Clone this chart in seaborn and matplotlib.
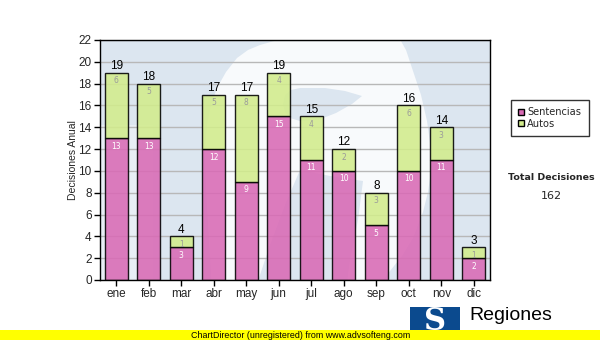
import matplotlib
matplotlib.use('Agg')
import matplotlib.pyplot as plt
import seaborn as sns
import numpy as np
from matplotlib.patches import Rectangle, Patch, Polygon

months = ['ene', 'feb', 'mar', 'abr', 'may', 'jun', 'jul', 'ago', 'sep', 'oct', 'nov', 'dic']
sentencias = [13, 13, 3, 12, 9, 15, 11, 10, 5, 10, 11, 2]
autos = [6, 5, 1, 5, 8, 4, 4, 2, 3, 6, 3, 1]
totals = [s + a for s, a in zip(sentencias, autos)]
total_decisiones = sum(totals)
yticks = list(range(0, 23, 2))

PINK = '#d96ab5'
GREEN = '#d2ec8c'
BG_BLUE = '#dce6f0'
WM_WHITE = '#f8fafc'

sns.set_theme(style='white')
plt.rcParams['font.family'] = ['Liberation Sans', 'DejaVu Sans']

W, H = 600, 340
fig = plt.figure(figsize=(6, 3.4), dpi=100)
fig.patch.set_facecolor('white')


def fx(x):
    return x / W


def fy(y):
    return 1 - y / H


L, R, T, B = 100, 490, 40, 280
rect = [fx(L), fy(B), (R - L) / W, (B - T) / H]

# background with watermark (pixel coordinates, y down)
bg = fig.add_axes(rect, zorder=0)
bg.set_xlim(L, R)
bg.set_ylim(B, T)
bg.set_xticks([])
bg.set_yticks([])
for s in bg.spines.values():
    s.set_visible(False)
bg.add_patch(Rectangle((L, T), R - L, B - T, facecolor=BG_BLUE, edgecolor='none'))
bg.add_patch(Rectangle((L, 125), 53, B - 125, facecolor='#e8eef5', edgecolor='none'))
outer = [(260, 45), (285, 38), (300, 34), (397, 34), (406, 50), (413, 71), (421, 95), (427, 121),
         (431, 150), (431, 171), (428, 192), (423, 212), (413, 238), (402, 256), (390, 271),
         (375, 290), (212, 290), (209, 240), (206, 190), (205, 150), (207, 125), (211, 105),
         (217, 88), (226, 72), (237, 58), (248, 50)]
bg.add_patch(Polygon(outer, closed=True, facecolor=WM_WHITE, edgecolor='none'))
tongue = [(283, 104), (285, 95), (291, 90), (300, 88), (325, 88), (345, 91), (362, 96),
          (352, 104), (336, 113), (318, 120), (300, 121), (290, 118), (285, 112)]
bg.add_patch(Polygon(tongue, closed=True, facecolor=BG_BLUE, edgecolor='none'))
counter = [(300, 170), (330, 176), (363, 181), (358, 220), (350, 260), (346, 290),
           (255, 290), (270, 245), (285, 205)]
bg.add_patch(Polygon(counter, closed=True, facecolor=BG_BLUE, edgecolor='none'))

ax = fig.add_axes(rect, zorder=1)
ax.patch.set_alpha(0)

sns.barplot(x=months, y=sentencias, color=PINK, saturation=1, width=0.7,
            edgecolor='black', linewidth=1.0, alpha=0.88, ax=ax, errorbar=None)
sns.barplot(x=months, y=autos, bottom=sentencias, color=GREEN, saturation=1, width=0.7,
            edgecolor='black', linewidth=1.0, alpha=0.88, ax=ax, errorbar=None)

ax.set_xlim(-0.5, 11.5)
ax.set_ylim(0, 22)
ax.set_yticks(yticks)
ax.set_axisbelow(True)
ax.yaxis.grid(True, color='#b8b8b8', lw=1.0)
ax.xaxis.grid(False)
for s in ax.spines.values():
    s.set_visible(True)
    s.set_color('black')
    s.set_linewidth(1.0)
ax.tick_params(axis='both', which='major', length=4, width=1, color='black',
               labelsize=8.5, pad=2, direction='out', bottom=True, left=True)
ax.set_xlabel('')
ax.set_ylabel('')

for i in range(len(months)):
    ax.annotate(str(sentencias[i]), (i, sentencias[i]), xytext=(0, -2.5), textcoords='offset points',
                ha='center', va='top', color='white', fontsize=5.5, family='DejaVu Sans')
    ax.annotate(str(autos[i]), (i, totals[i]), xytext=(0, -2.5), textcoords='offset points',
                ha='center', va='top', color='#9a9a9a', fontsize=5.5, family='DejaVu Sans')
    ax.annotate(str(totals[i]), (i, totals[i]), xytext=(0, 0.5), textcoords='offset points',
                ha='center', va='bottom', color='black', fontsize=8.5)

fig.text(fx(73), fy(160), 'Decisiones Anual', rotation=90, ha='center', va='center', fontsize=7.5)

handles = [Patch(facecolor=PINK, edgecolor='black', lw=1), Patch(facecolor=GREEN, edgecolor='black', lw=1)]
leg = fig.legend(handles, ['Sentencias', 'Autos'], loc='upper left',
                 bbox_to_anchor=(fx(511), fy(100)), frameon=True, fancybox=False,
                 prop={'family': 'DejaVu Sans', 'size': 7.1}, handlelength=0.55, handleheight=0.55,
                 handletextpad=0.35, borderpad=0.75, labelspacing=0.15, borderaxespad=0)
leg.get_frame().set_edgecolor('black')
leg.get_frame().set_linewidth(1.0)

fig.text(fx(551), fy(178), 'Total Decisiones', ha='center', va='center', fontsize=6.8,
         fontweight='bold', family='DejaVu Sans')
fig.text(fx(551), fy(196), str(total_decisiones), ha='center', va='center', fontsize=8,
         family='DejaVu Sans')

# logo
fig.patches.append(Rectangle((fx(410), fy(335)), 50 / W, 28 / H, transform=fig.transFigure,
                             facecolor='#0b4a8e', edgecolor='none', zorder=2))
fig.text(fx(435), fy(322), 'S', ha='center', va='center', fontsize=22, color='white',
         fontweight='bold', family='DejaVu Serif', zorder=3)
fig.text(fx(469), fy(316), 'Regiones', ha='left', va='center', fontsize=14, color='black')

# footer
fig.patches.append(Rectangle((0, 0), 1, 10 / H, transform=fig.transFigure,
                             facecolor='#ffff00', edgecolor='none', zorder=5))
fig.text(fx(191), fy(335), 'ChartDirector (unregistered) from www.advsofteng.com',
         ha='left', va='center', fontsize=6.4, color='black', zorder=6)

fig.savefig('out.png', dpi=100)
